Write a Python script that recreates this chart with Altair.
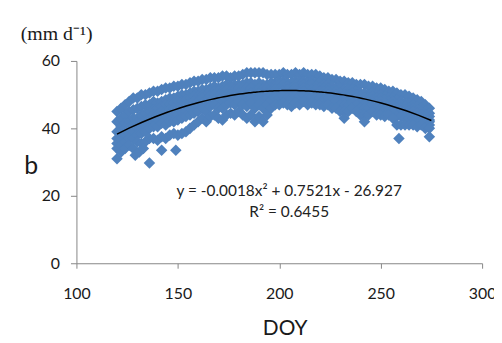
import altair as alt
import pandas as pd

# Day of year grid
doy = [120, 122, 124, 126, 128, 130, 132, 134, 136, 138,
       140, 142, 144, 146, 148, 150, 152, 154, 156, 158,
       160, 162, 164, 166, 168, 170, 172, 174, 176, 178,
       180, 182, 184, 186, 188, 190, 192, 194, 196, 198,
       200, 202, 204, 206, 208, 210, 212, 214, 216, 218,
       220, 222, 224, 226, 228, 230, 232, 234, 236, 238,
       240, 242, 244, 246, 248, 250, 252, 254, 256, 258,
       260, 262, 264, 266, 268, 270, 272, 274]

b_top = [45, 46, 47, 48, 49, 49, 50, 50, 50.5, 51,
         51, 51.5, 52, 52, 52.5, 52.5, 53, 53, 53.5, 54,
         54, 54.5, 54.5, 55, 55, 55, 55.5, 55.5, 55, 55.5,
         55.5, 56, 56.5, 56.5, 56.5, 56.5, 56.5, 56, 56, 56,
         56, 56.5, 56, 56, 56.5, 56, 56.5, 56, 56, 56,
         55.5, 55, 55, 54.5, 54.5, 54, 54, 53.5, 53.5, 53,
         53, 53, 52.5, 52.5, 52, 52, 51.5, 51, 51, 50.5,
         50, 50, 49.5, 49, 48.5, 48, 47, 46]

b_upper = [42, 43, 44, 45, 45.5, 46, 46.5, 47, 47, 48,
           47.5, 48, 48.5, 49, 49, 49.5, 50, 50, 50.5, 51,
           51, 51.5, 51.5, 52, 52.5, 52, 52.5, 53, 52.5, 53,
           53, 53, 53.5, 53.5, 53, 53.5, 53, 53, 53.5, 53.5,
           54, 54, 53.5, 53.5, 54, 54, 54, 53.5, 54, 53.5,
           53.5, 53, 53, 52.5, 52, 52, 51.5, 51.5, 51.5, 51,
           50.5, 50.5, 50, 50.5, 50, 50, 49.5, 49, 49, 48.5,
           48, 47.5, 47.5, 47, 46.5, 46, 45, 44.5]

b_upmid = [39, 40.5, 41.5, 42, 43, 43, 44, 44.5, 45, 45.5,
           46, 46.5, 47, 47, 47.5, 48, 48, 48.5, 49, 49.5,
           49.5, 50, 50, 51, 51, 51, 51, 51.5, 51, 51.5,
           52, 52, 52, 52, 51, 52, 51.5, 52, 52, 52.5,
           53, 53, 52.5, 52, 53, 52.5, 53, 52.5, 53, 52.5,
           52, 52, 52, 51, 51, 50.5, 50, 50, 50.5, 50,
           49.5, 49, 49, 49.5, 49, 49, 48.5, 48, 48, 47,
           47, 46.5, 46, 46, 45.5, 45, 44, 43.5]

b_mid = [37, 39, 40, 40.5, 41, 41.5, 42, 42.5, 43, 44,
         44, 45, 45, 45.5, 46, 46, 46.5, 47, 47.5, 48,
         48, 49, 48.5, 49.5, 50, 49.5, 49.5, 50, 50, 50,
         50.5, 50.5, 50, 50.5, 49.5, 50.5, 49.5, 50.5, 51, 51.5,
         51.5, 52, 51.5, 51, 52, 51.5, 52, 51.5, 51.5, 51.5,
         51, 51, 51, 50, 50, 49.5, 49, 49, 49.5, 49,
         48.5, 48, 48, 48.5, 48, 48, 47.5, 47, 47, 46,
         46, 45.5, 45, 45, 44.5, 44, 43.5, 42.5]

b_lowmid = [35.5, 37, 38, 38.5, 39, 40, 40, 41, 41.5, 42.5,
            42, 43, 43, 44, 44, 44, 45, 45, 46, 46,
            46.5, 47.5, 47, 48, 48.5, 48, 48, 48.5, 49, 48.5,
            49, 49, 48, 49, 48, 49, 48, 49, 50, 50,
            50, 51, 50, 50, 51, 50.5, 51, 50, 50.5, 50,
            50, 50, 50, 49, 49, 48, 48, 48, 48.5, 48,
            47, 47, 47, 48, 47, 47, 46.5, 46, 46, 45,
            45, 44, 44, 44, 43.5, 43, 42.5, 42]

b_lower = [34, 35, 36, 37, 37, 38, 38.5, 39, 40, 40.5,
           40.5, 41.5, 41, 42, 42, 42.5, 43, 43.5, 44, 44.5,
           45, 46, 45, 46.5, 47, 46, 46, 47, 47.5, 47,
           48, 47, 46.5, 47.5, 46, 47, 46, 47, 48.5, 49,
           49, 49.5, 49, 49, 49.5, 49.5, 50, 49, 49.5, 49,
           49, 48.5, 49, 48, 48, 47, 47, 47, 47.5, 47,
           46, 46, 46, 47, 46, 46, 45.5, 45.5, 45, 43.5,
           43.5, 43, 43, 43, 42.5, 42.5, 41.5, 41]

b_bottom = [31, 33, 34, 35, 34, 36, 35.5, 36, 37, 37,
            36.5, 37.5, 37, 38, 38.5, 38, 38.5, 39, 40, 41,
            42, 43, 42, 43.5, 44, 43, 42.5, 44, 44.5, 44,
            45, 44, 43, 44, 42, 43.5, 42, 44, 46, 47,
            47, 47.5, 47, 46.5, 47.5, 47, 48, 47, 47.5, 47,
            47, 46.5, 47, 46, 46, 45, 45, 45, 46, 45,
            44, 44, 44, 45, 44, 44, 43.5, 44, 43, 41,
            41, 41, 41, 41, 40.5, 41, 40, 40]

# Scattered low points
out_doy = [129, 131, 133, 136, 142, 149, 232, 242, 259, 274]
out_b = [32, 33, 34, 29.7, 33.5, 33.5, 43, 42, 37, 37.5]

x_ticks = [100, 150, 200, 250, 300]
y_ticks = [0, 20, 40, 60]

series = (b_top, b_upper, b_upmid, b_mid, b_lowmid, b_lower, b_bottom)
frames = [pd.DataFrame({"doy": doy, "b": s}) for s in series]
frames.append(pd.DataFrame({"doy": out_doy, "b": out_b}))
df = pd.concat(frames, ignore_index=True)

xs = alt.Scale(domain=[100, 300], nice=False, zero=False)
ys = alt.Scale(domain=[0, 60], nice=False)

x_axis = alt.Axis(values=x_ticks, title="DOY", grid=False, tickSize=5, labelPadding=18,
                  labelFlush=False, labelOverlap=False,
                  titleX=210, titleY=72, titleBaseline="alphabetic", titleAnchor="start",
                  titleAlign="center", titleFontSize=21, titleFontWeight="normal",
                  titleColor="#1a1a1a")
y_axis = alt.Axis(values=y_ticks, title="b", grid=False, tickSize=6, labelPadding=11,
                  labelFlush=False, labelOverlap=False,
                  titleAngle=0, titleX=-46, titleY=105, titleAlign="center",
                  titleBaseline="middle", titleFontSize=25, titleFontWeight="normal",
                  titleColor="#1a1a1a")

points = alt.Chart(df).mark_point(shape="diamond", filled=True, size=135, opacity=1,
                                  color="#4F81BD").encode(
    x=alt.X("doy:Q", scale=xs, axis=x_axis),
    y=alt.Y("b:Q", scale=ys, axis=y_axis),
)

trend = alt.Chart(df).transform_regression(
    "doy", "b", method="poly", order=2, extent=[120, 275]
).mark_line(color="black", strokeWidth=1.5).encode(
    x=alt.X("doy:Q", scale=xs),
    y=alt.Y("b:Q", scale=ys),
)

eq = alt.Chart(pd.DataFrame({"t": ["y = -0.0018x² + 0.7521x - 26.927"]})).mark_text(
    font="Lato", fontSize=15.5, color="#222222", align="center", baseline="middle"
).encode(text="t:N", x=alt.value(214.5), y=alt.value(131))

r2 = alt.Chart(pd.DataFrame({"t": ["R² = 0.6455"]})).mark_text(
    font="Lato", fontSize=15.5, color="#222222", align="center", baseline="middle"
).encode(text="t:N", x=alt.value(214.5), y=alt.value(152))

unit = alt.Chart(pd.DataFrame({"t": ["(mm  d⁻¹)"]})).mark_text(
    font="Liberation Serif", fontSize=20, color="#1a1a1a", align="center", baseline="middle"
).encode(text="t:N", x=alt.value(-20), y=alt.value(-27))

chart = alt.layer(points, trend, eq, r2, unit).properties(
    width=409, height=204,
    autosize=alt.AutoSizeParams(type="none"),
    padding={"left": 69, "top": 52, "right": 12, "bottom": 75},
).configure_view(stroke=None).configure_axis(
    domainColor="#868686", tickColor="#868686", labelFont="Lato", labelFontSize=16,
    labelColor="#1a1a1a", titleFont="Lato", domainWidth=1
)

chart.save("out.html", embed_options={"renderer": "svg", "actions": False})
